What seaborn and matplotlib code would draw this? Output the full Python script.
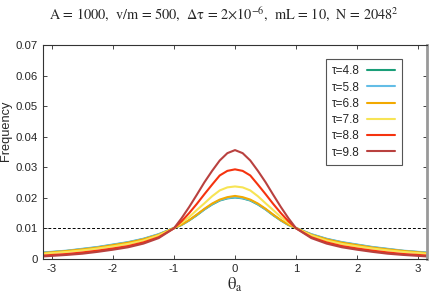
import numpy as np
import pandas as pd
import matplotlib
matplotlib.use("Agg")
import matplotlib.pyplot as plt
import seaborn as sns

# angle grid (rad), denser near the peak
theta = [-3.1416, -2.75, -2.5, -2.25, -2.0, -1.75, -1.5, -1.25,
         -1.0, -0.875, -0.75, -0.625, -0.5, -0.375, -0.25, -0.125, 0.0,
         0.125, 0.25, 0.375, 0.5, 0.625, 0.75, 0.875, 1.0,
         1.25, 1.5, 1.75, 2.0, 2.25, 2.5, 2.75, 3.1416]

# frequency per tau
f_48 = [0.0020, 0.0026, 0.0032, 0.0038, 0.0046, 0.0054, 0.0065, 0.0080,
        0.0101, 0.0111, 0.0126, 0.0143, 0.0162, 0.0178, 0.0191, 0.0198, 0.0201,
        0.0198, 0.0191, 0.0178, 0.0162, 0.0143, 0.0126, 0.0111, 0.0101,
        0.0080, 0.0065, 0.0054, 0.0046, 0.0038, 0.0032, 0.0026, 0.0020]
f_58 = [0.0021, 0.0027, 0.0033, 0.0039, 0.0047, 0.0055, 0.0066, 0.0081,
        0.0101, 0.0111, 0.0126, 0.0144, 0.0162, 0.0179, 0.0192, 0.0199, 0.0202,
        0.0199, 0.0192, 0.0179, 0.0162, 0.0144, 0.0126, 0.0111, 0.0101,
        0.0081, 0.0066, 0.0055, 0.0047, 0.0039, 0.0033, 0.0027, 0.0021]
f_68 = [0.0019, 0.0026, 0.0031, 0.0037, 0.0045, 0.0053, 0.0064, 0.0079,
        0.0101, 0.0112, 0.0127, 0.0145, 0.0164, 0.0181, 0.0194, 0.0202, 0.0206,
        0.0202, 0.0194, 0.0181, 0.0164, 0.0145, 0.0127, 0.0112, 0.0101,
        0.0079, 0.0064, 0.0053, 0.0045, 0.0037, 0.0031, 0.0026, 0.0019]
f_78 = [0.0017, 0.0023, 0.0028, 0.0034, 0.0041, 0.0049, 0.0060, 0.0077,
        0.0100, 0.0118, 0.0137, 0.0160, 0.0182, 0.0205, 0.0224, 0.0234, 0.0237,
        0.0234, 0.0224, 0.0205, 0.0182, 0.0160, 0.0137, 0.0118, 0.0100,
        0.0077, 0.0060, 0.0049, 0.0041, 0.0034, 0.0028, 0.0023, 0.0017]
f_88 = [0.0011, 0.0016, 0.0021, 0.0027, 0.0034, 0.0042, 0.0054, 0.0071,
        0.0100, 0.0123, 0.0150, 0.0180, 0.0212, 0.0243, 0.0273, 0.0288, 0.0293,
        0.0288, 0.0273, 0.0243, 0.0212, 0.0180, 0.0150, 0.0123, 0.0100,
        0.0071, 0.0054, 0.0042, 0.0034, 0.0027, 0.0021, 0.0016, 0.0011]
f_98 = [0.0008, 0.0013, 0.0017, 0.0023, 0.0030, 0.0038, 0.0050, 0.0068,
        0.0100, 0.0133, 0.0170, 0.0210, 0.0251, 0.0288, 0.0322, 0.0346, 0.0356,
        0.0346, 0.0322, 0.0288, 0.0251, 0.0210, 0.0170, 0.0133, 0.0100,
        0.0068, 0.0050, 0.0038, 0.0030, 0.0023, 0.0017, 0.0013, 0.0008]

labels = ["τ=4.8", "τ=5.8", "τ=6.8", "τ=7.8", "τ=8.8", "τ=9.8"]
series = [f_48, f_58, f_68, f_78, f_88, f_98]
colors = ["#1a9e78", "#63bde6", "#f2a900", "#f7e455", "#f5330f", "#b9413f"]

df = pd.concat([pd.DataFrame({"theta": theta, "freq": s, "tau": lab})
                for lab, s in zip(labels, series)], ignore_index=True)

sns.set_style("ticks")
plt.rcParams["font.family"] = ["Liberation Sans", "DejaVu Sans"]
plt.rcParams["mathtext.fontset"] = "stix"
plt.rcParams["axes.unicode_minus"] = False

fig = plt.figure(figsize=(4.36, 3.06), dpi=100)
ax = fig.add_axes([0.099, 0.154, 0.88, 0.699])

sns.lineplot(data=df, x="theta", y="freq", hue="tau", palette=dict(zip(labels, colors)),
             linewidth=1.5, ax=ax)

ax.axhline(0.01, color="black", linestyle=(0, (3, 2)), linewidth=0.7, zorder=0)

ax.set_xlim(-np.pi, np.pi)
ax.set_ylim(0, 0.07)
ax.set_xticks([-3, -2, -1, 0, 1, 2, 3])
ax.set_yticks([0, 0.01, 0.02, 0.03, 0.04, 0.05, 0.06, 0.07])
ax.set_yticklabels(["0", "0.01", "0.02", "0.03", "0.04", "0.05", "0.06", "0.07"])
ax.tick_params(direction="in", top=True, right=True, length=3, width=0.6, labelsize=8.2, pad=4)
for sp in ax.spines.values():
    sp.set_linewidth(0.8)
    sp.set_color("#333333")
ax.spines["right"].set_linewidth(2)
ax.spines["right"].set_color("#999999")

ax.set_ylabel("Frequency", fontsize=9.2)
ax.yaxis.set_label_coords(-0.08, 0.6)
ax.set_xlabel(r"$\mathrm{\theta_a}$", fontsize=12, labelpad=1)

fig.text(0.514, 0.954, r"A = 1000,  v/m = 500,  $\mathrm{\Delta\tau}$ = 2$\times$10$^{\mathrm{-6}}$,  mL = 10,  N = 2048$^2$",
         ha="center", va="center", fontsize=10.3, family="STIXGeneral")

leg = ax.legend(title=None, loc="upper right", bbox_to_anchor=(0.935, 0.935), borderaxespad=0,
                markerfirst=False, fontsize=8.5, handlelength=2.4, labelspacing=0.36, borderpad=0.55,
                handletextpad=0.6, fancybox=False, framealpha=1, edgecolor="#555555")
leg.get_frame().set_linewidth(0.8)

fig.savefig("out.png", dpi=100)
